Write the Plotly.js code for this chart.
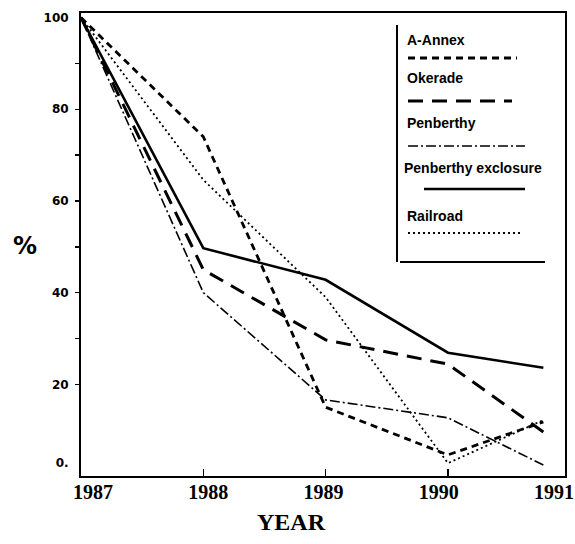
<!DOCTYPE html>
<html>
<head>
<meta charset="utf-8">
<script src="https://cdn.plot.ly/plotly-3.0.1.min.js"></script>
<style>html,body{margin:0;padding:0;background:#fff;}#chart{width:575px;height:544px;}</style>
</head>
<body>
<div id="chart"></div>
<script>
// ---- data ----
var years = [1987, 1988, 1989, 1990, 1990.78];
var seriesNames = ["A-Annex", "Okerade", "Penberthy", "Penberthy exclosure", "Railroad"];
var aAnnex     = [100, 74, 15, 4.6, 11.8];
var okerade    = [100, 45, 29.7, 24.4, 9.6];
var penberthy  = [100, 40, 16.6, 12.7, 2.4];
var penExcl    = [100, 49.7, 42.8, 26.9, 23.6];
var railroad   = [100, 64.6, 39, 2.8, 12.2];
var xTickYears = [1987, 1988, 1989, 1990, 1991];
var xTickText  = ["1987", "1988", "1989", "1990", "1991"];
var yTickVals  = [2.8, 20, 40, 60, 80, 100];
var yTickText  = ["0.", "20", "40", "60", "80", "100"];

// ---- styles ----
var W = 575, H = 544, L = 81, R = 10, T = 13, B = 68;
var pw = W - L - R, ph = H - T - B;
function px(x) { return (x - L) / pw; }
function py(y) { return (H - B - y) / ph; }

var styles = [
  {dash: "7px,5px", width: 2.8},
  {dash: "15px,9px", width: 3},
  {dash: "10px,3px,2px,3px", width: 1.6},
  {dash: "solid", width: 2.6},
  {dash: "2px,3px", width: 1.8}
];
var values = [aAnnex, okerade, penberthy, penExcl, railroad];

var traces = values.map(function (v, i) {
  return {
    x: years, y: v, name: seriesNames[i], type: "scatter", mode: "lines",
    line: {color: "#000", width: styles[i].width, dash: styles[i].dash},
    showlegend: false, hoverinfo: "skip"
  };
});
// invisible carrier for the label axis
traces.push({x: [xTickYears[0]], y: [null], xaxis: "x2", yaxis: "y", mode: "markers",
  marker: {opacity: 0}, showlegend: false, hoverinfo: "skip"});

// legend (text above sample line) built from the series names
var legTextY = [40, 78, 123, 168, 216];
var legLineY = [58, 101, 146, 189, 233];
var legLineX = [[408, 517], [408, 512], [408, 525], [424, 525], [408, 523]];
var legTextX = [405, 405, 405, 402, 405];

var annotations = [];
var shapes = [];
seriesNames.forEach(function (n, i) {
  annotations.push({
    text: n, xref: "paper", yref: "paper", x: px(legTextX[i]), y: py(legTextY[i]),
    xanchor: "left", yanchor: "middle", showarrow: false,
    font: {family: "Liberation Sans", size: 14, color: "#000", weight: 700}
  });
  shapes.push({
    type: "line", xref: "paper", yref: "paper",
    x0: px(legLineX[i][0]), x1: px(legLineX[i][1]), y0: py(legLineY[i]), y1: py(legLineY[i]),
    line: {color: "#000", width: styles[i].width, dash: styles[i].dash}
  });
});
// legend frame (left and bottom edges)
shapes.push({type: "line", xref: "paper", yref: "paper", x0: px(397), x1: px(397), y0: py(25), y1: py(262),
  line: {color: "#000", width: 2}});
shapes.push({type: "line", xref: "paper", yref: "paper", x0: px(400), x1: px(545), y0: py(262), y1: py(262),
  line: {color: "#000", width: 2}});

annotations.push({text: "YEAR", xref: "paper", yref: "paper", x: px(291), y: py(522),
  xanchor: "center", yanchor: "middle", showarrow: false,
  font: {family: "Liberation Serif", size: 24, color: "#000", weight: 700}});
annotations.push({text: "%", xref: "paper", yref: "paper", x: px(25), y: py(246),
  xanchor: "center", yanchor: "middle", showarrow: false,
  font: {family: "DejaVu Sans", size: 24, color: "#000", weight: 700}});

var layout = {
  width: W, height: H,
  margin: {l: L, r: R, t: T, b: B, pad: 0},
  paper_bgcolor: "#fff", plot_bgcolor: "#fff",
  showlegend: false,
  xaxis: {
    range: [1987, 1990.957], showline: true, linecolor: "#000", linewidth: 2, mirror: true,
    tickvals: [1988, 1989, 1990], ticks: "inside", ticklen: 7, tickwidth: 1.5, tickcolor: "#000",
    showticklabels: false, showgrid: false, zeroline: false, fixedrange: true
  },
  xaxis2: {
    overlaying: "x", anchor: "y", side: "bottom", range: [1986.896, 1991.095],
    tickvals: xTickYears, ticktext: xTickText, ticks: "", showline: false, showgrid: false,
    zeroline: false, ticklabelstandoff: 2,
    tickfont: {family: "Liberation Serif", size: 20, color: "#000", weight: 700}
  },
  yaxis: {
    range: [0, 101], showline: true, linecolor: "#000", linewidth: 2, mirror: true,
    tickvals: yTickVals, ticktext: yTickText, ticks: "", showgrid: false, zeroline: false,
    ticklabelstandoff: 8,
    tickfont: {family: "DejaVu Sans", size: 12, color: "#000", weight: 700},
    minor: {tickvals: [20, 30, 40, 50, 60, 70, 80, 90], ticks: "outside", ticklen: 4, tickwidth: 1.5, tickcolor: "#000", showgrid: false}
  },
  annotations: annotations,
  shapes: shapes
};

Plotly.newPlot("chart", traces, layout, {staticPlot: true, displayModeBar: false});
</script>
</body>
</html>
